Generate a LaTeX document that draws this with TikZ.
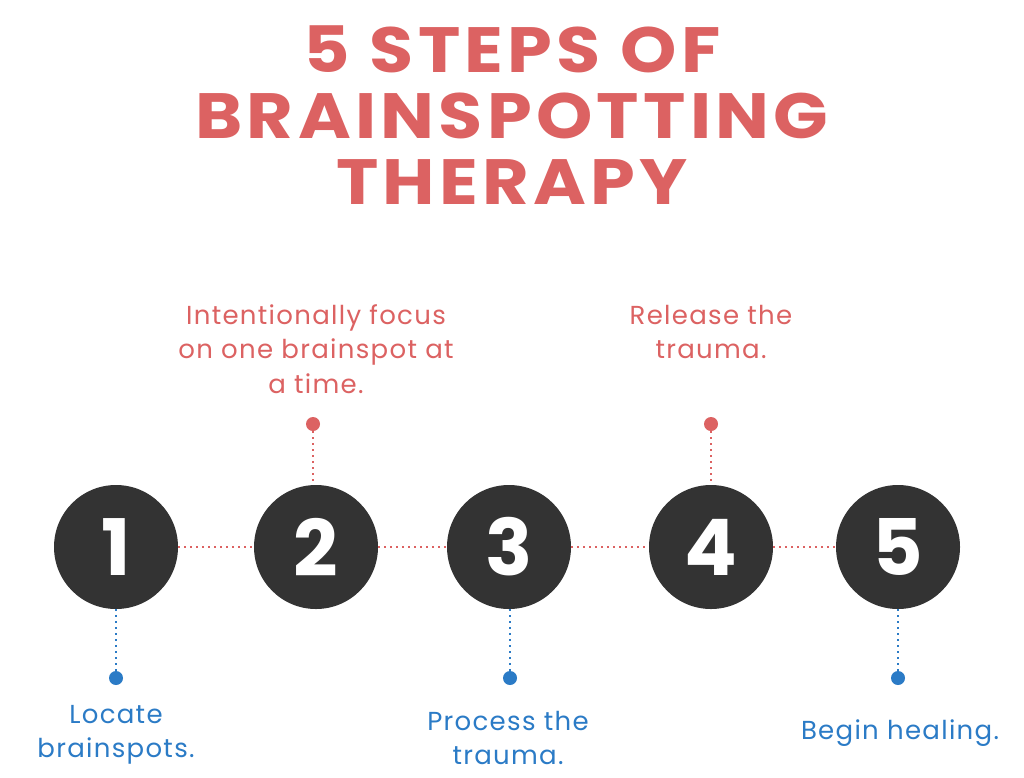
\documentclass[tikz,border=0pt]{standalone}
\usepackage{fontspec}
\setmainfont{Poppins}[LetterSpace=5]
\newfontfamily\titlefont{Poppins}[UprightFont=* Bold,LetterSpace=6]
\newfontfamily\numfont{Poppins}[UprightFont=* Bold]
\definecolor{cred}{HTML}{DC6262}
\definecolor{cblue}{HTML}{2B7BC6}
\definecolor{cdark}{HTML}{333333}
\begin{document}
\begin{tikzpicture}[x=1pt,y=-1pt,
  stepcircle/.style={circle,fill=cdark,minimum size=124pt,inner sep=0pt,text=white,font=\numfont\fontsize{78}{78}\selectfont},
  reddot/.style={circle,fill=cred,minimum size=14pt,inner sep=0pt},
  bluedot/.style={circle,fill=cblue,minimum size=14pt,inner sep=0pt},
  redlink/.style={draw=cred,line width=1.4pt,dash pattern=on 1.4pt off 4.6pt},
  bluelink/.style={draw=cblue,line width=1.4pt,dash pattern=on 1.4pt off 4.6pt},
  redtext/.style={text=cred,align=center,font=\fontsize{26}{34.5}\selectfont,inner sep=0pt},
  bluetext/.style={text=cblue,align=center,font=\fontsize{26}{34.5}\selectfont,inner sep=0pt},
  titletext/.style={text=cred,align=center,font=\titlefont\fontsize{64}{66}\selectfont,inner sep=0pt}
]
\useasboundingbox[fill=white] (0,0) rectangle (1024,777);
\node[titletext] (title) at (512,115) {\scalebox{1.12}[1]{5 STEPS OF}\\\scalebox{1.12}[1]{BRAINSPOTTING}\\\scalebox{1.12}[1]{THERAPY}};

\node[stepcircle] (c1) at (116,547) {1};
\node[stepcircle] (c2) at (316,547) {2};
\node[stepcircle] (c3) at (509,547) {3};
\node[stepcircle] (c4) at (711,547) {4};
\node[stepcircle] (c5) at (898,547) {5};

\draw[redlink] (c1) -- (c2);
\draw[redlink] (c2) -- (c3);
\draw[redlink] (c3) -- (c4);
\draw[redlink] (c4) -- (c5);

\node[reddot] (d2) at (313,424) {};
\node[reddot] (d4) at (711,424) {};
\node[bluedot] (d1) at (116,678) {};
\node[bluedot] (d3) at (510,678) {};
\node[bluedot] (d5) at (898,678) {};

\draw[redlink] (d2) -- (d2 |- c2.north);
\draw[redlink] (d4) -- (c4);
\draw[bluelink] (c1) -- (d1);
\draw[bluelink] (d3 |- c3.south) -- (d3);
\draw[bluelink] (c5) -- (d5);

\node[redtext] (t2) at (316,349) {Intentionally focus\\on one brainspot at\\a time.};
\node[redtext] (t4) at (711,332) {Release the\\trauma.};
\node[bluetext] (t1) at (116,735) {Locate\\brainspots.};
\node[bluetext] (t3) at (508,738) {Process the\\trauma.};
\node[bluetext] (t5) at (900,733) {Begin healing.};
\end{tikzpicture}
\end{document}
